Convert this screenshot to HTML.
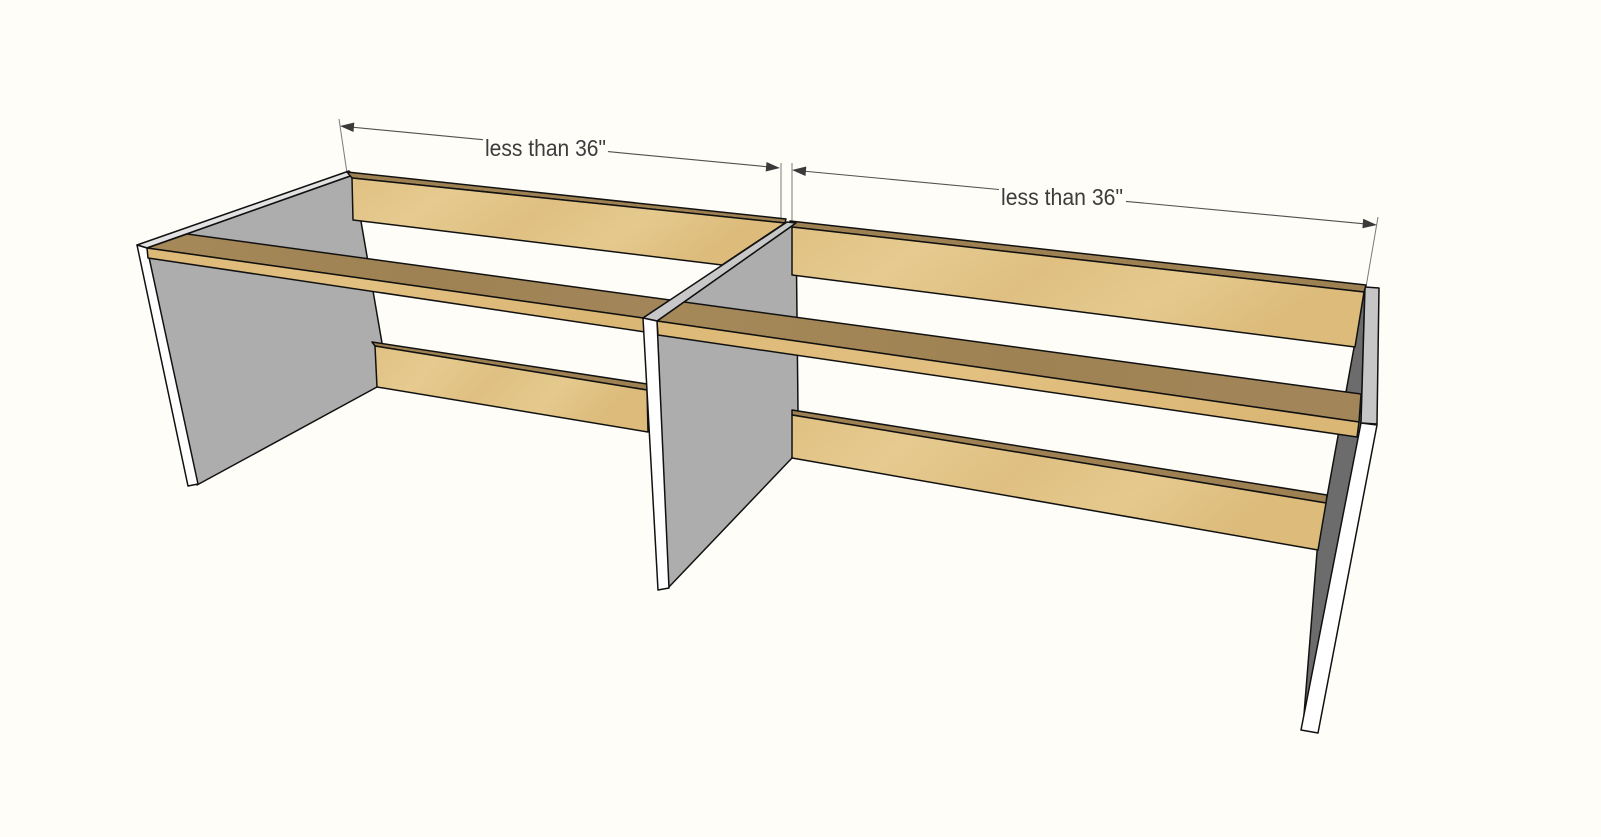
<!DOCTYPE html>
<html>
<head>
<meta charset="utf-8">
<style>
  html, body { margin: 0; padding: 0; background: #fffdf7; }
  svg { display: block; }
  text { font-family: "Liberation Sans", "DejaVu Sans", sans-serif; }
</style>
</head>
<body>
<svg width="1601" height="837" viewBox="0 0 1601 837" xmlns="http://www.w3.org/2000/svg">
  <defs>
    <linearGradient id="woodA" x1="0" y1="0" x2="1" y2="0.3">
      <stop offset="0" stop-color="#e0c183"/>
      <stop offset="0.25" stop-color="#e6ca8f"/>
      <stop offset="0.5" stop-color="#dfc082"/>
      <stop offset="0.75" stop-color="#e5c98d"/>
      <stop offset="1" stop-color="#dcbb7b"/>
    </linearGradient>
    <linearGradient id="woodB" x1="0" y1="0" x2="1" y2="0.2">
      <stop offset="0" stop-color="#ddb977"/>
      <stop offset="0.5" stop-color="#e2c081"/>
      <stop offset="1" stop-color="#dbb775"/>
    </linearGradient>
    <linearGradient id="woodTop" x1="0" y1="0" x2="1" y2="0">
      <stop offset="0" stop-color="#a68959"/>
      <stop offset="0.5" stop-color="#9f8253"/>
      <stop offset="1" stop-color="#a2865a"/>
    </linearGradient>
  </defs>

  <rect x="0" y="0" width="1601" height="837" fill="#fffdf7"/>

  <!-- Dimension / extension lines -->
  <g stroke="#7a7a7a" stroke-width="1" fill="none">
    <line x1="339" y1="119" x2="347" y2="173"/>
    <line x1="781" y1="163" x2="781" y2="221"/>
    <line x1="792" y1="163" x2="792" y2="223"/>
    <line x1="1378" y1="217" x2="1366" y2="287"/>
  </g>
  <g stroke="#505050" stroke-width="1.1" fill="none">
    <line x1="345" y1="126.5" x2="483" y2="139.7"/>
    <line x1="608" y1="151.6" x2="775" y2="167.5"/>
    <line x1="797" y1="170.5" x2="999" y2="189.5"/>
    <line x1="1126" y1="201.4" x2="1372" y2="224.6"/>
  </g>
  <g fill="#3a3a3a">
    <polygon points="340,126 354.3,122.5 353.5,132"/>
    <polygon points="780,168 766.5,162 765.7,171.5"/>
    <polygon points="792,170 806.3,166.5 805.5,176"/>
    <polygon points="1377,225 1363.2,218.8 1362.4,228.3"/>
  </g>
  <text x="485" y="156" font-size="23" fill="#3c3c3c" textLength="121" lengthAdjust="spacingAndGlyphs">less than 36"</text>
  <text x="1001" y="205" font-size="23" fill="#3c3c3c" textLength="122" lengthAdjust="spacingAndGlyphs">less than 36"</text>

  <g stroke="#111" stroke-width="1.5" stroke-linejoin="round">
    <!-- Left side panel -->
    <polygon points="147,248 353,175 382,343 377,387 197,485" fill="#adadad"/>
    <polygon points="137,245 349,171 353,175 147,248" fill="#e2e2e2"/>
    <polygon points="137,245 147,248 198,484 188,486" fill="#ffffff"/>

    <!-- Upper back rail, left section -->
    <polygon points="347,172 786,219 785,223 352,178" fill="#9e8152"/>
    <polygon points="352,178 785,223 722,265 353,220" fill="url(#woodA)"/>

    <!-- Bottom rail, left section -->
    <polygon points="372,342 647,384 647,390 375,346" fill="#9e8152"/>
    <polygon points="375,346 647,390 648,432 377,387" fill="url(#woodA)"/>

    <!-- Divider gray face -->
    <polygon points="657,321 796,223 798,410 792,458 668,588" fill="#adadad"/>

    <!-- Right side panel -->
    <polygon points="1365,287 1361,424 1303,727 1317,552" fill="#6c6c6c"/>
    <polygon points="1365,287 1379,288 1377,424 1361,423" fill="#c6c6c6"/>
    <polygon points="1361,423 1377,425 1318,733 1301,730" fill="#ffffff"/>

    <!-- Upper back rail, right section -->
    <polygon points="790,221 1366,285 1364,292 792,227" fill="#9e8152"/>
    <polygon points="792,227 1364,292 1355,347 792,275" fill="url(#woodA)"/>

    <!-- Bottom rail, right section -->
    <polygon points="792,410 1327,495 1326,503 792,415" fill="#9e8152"/>
    <polygon points="792,415 1326,503 1318,550 792,458" fill="url(#woodA)"/>

    <!-- Front rail, left section -->
    <polygon points="147,248 187,234 670,300 643,318" fill="url(#woodTop)"/>
    <polygon points="147,248 643,318 645,332 148,258" fill="url(#woodB)"/>

    <!-- Front rail, right section -->
    <polygon points="657,321 684,302 1361,394 1359,422" fill="url(#woodTop)"/>
    <polygon points="657,321 1359,422 1357,437 658,335" fill="url(#woodB)"/>

    <!-- Divider top strip and white front edge -->
    <polygon points="643,318 787,222 796,223 657,321" fill="#c8c8c8"/>
    <polygon points="643,318 657,321 669,588 658,590" fill="#ffffff"/>
  </g>
</svg>
</body>
</html>
